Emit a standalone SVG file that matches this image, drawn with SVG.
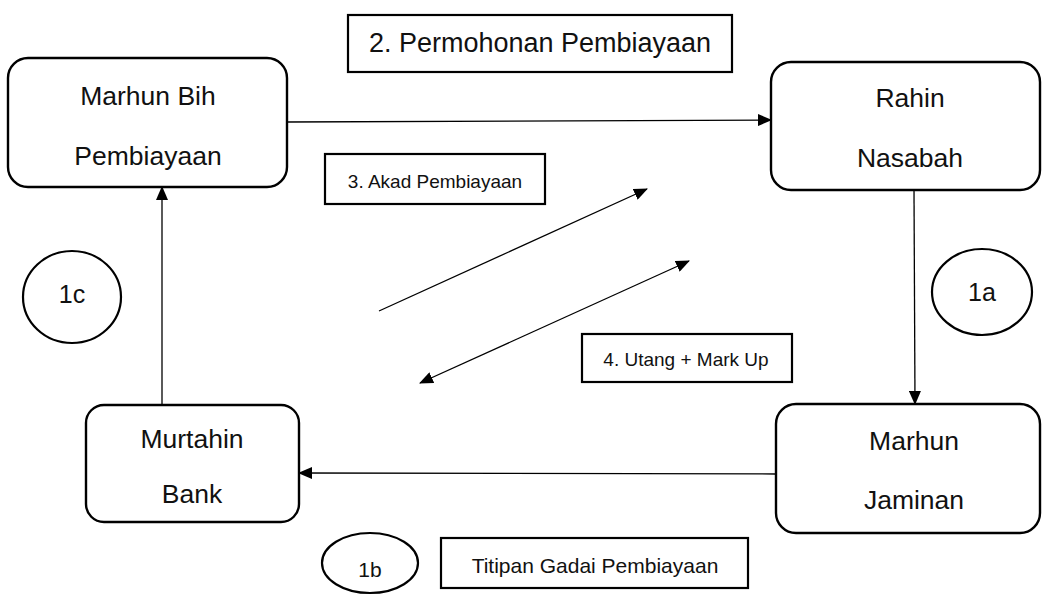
<svg xmlns="http://www.w3.org/2000/svg" width="1046" height="595" viewBox="0 0 1046 595">
<style>
.node{fill:#fff;stroke:#000;stroke-width:2.4}
.lbl{fill:#fff;stroke:#000;stroke-width:2.2}
.conn{stroke:#000;stroke-width:1.3;fill:none}
text{font-family:"Liberation Sans",Arial,sans-serif;fill:#111;text-anchor:middle}
.big{font-size:26.5px}
.title{font-size:27px}
.small{font-size:19px}
.mid{font-size:21px}
.num{font-size:25px}
</style>
<defs>
<marker id="arr" markerUnits="userSpaceOnUse" markerWidth="14" markerHeight="12" refX="13" refY="6" orient="auto-start-reverse" viewBox="0 0 14 12">
<path d="M0,0 L14,6 L0,12 z" fill="#000"/>
</marker>
</defs>
<rect width="1046" height="595" fill="#fff"/>
<g id="connectors">
<line class="conn" x1="287" y1="122" x2="771" y2="120" marker-end="url(#arr)"/>
<line class="conn" x1="914" y1="190" x2="915" y2="404" marker-end="url(#arr)"/>
<line class="conn" x1="776" y1="474" x2="299" y2="473" marker-end="url(#arr)"/>
<line class="conn" x1="162" y1="405" x2="162" y2="187" marker-end="url(#arr)"/>
<line class="conn" x1="379" y1="311" x2="647" y2="189" marker-end="url(#arr)"/>
<line class="conn" x1="420" y1="383" x2="689" y2="261" marker-start="url(#arr)" marker-end="url(#arr)"/>
</g>
<g id="marhun-bih">
<rect class="node" x="8" y="58" width="279" height="129" rx="20"/>
<text class="big" x="148" y="105">Marhun Bih</text>
<text class="big" x="148" y="165">Pembiayaan</text>
</g>
<g id="rahin">
<rect class="node" x="771" y="62" width="269" height="128" rx="20"/>
<text class="big" x="910" y="107">Rahin</text>
<text class="big" x="910" y="167">Nasabah</text>
</g>
<g id="murtahin">
<rect class="node" x="86" y="405" width="213" height="117" rx="18"/>
<text class="big" x="192" y="448">Murtahin</text>
<text class="big" x="192" y="503">Bank</text>
</g>
<g id="marhun-jaminan">
<rect class="node" x="776" y="404" width="264" height="129" rx="20"/>
<text class="big" x="914" y="450">Marhun</text>
<text class="big" x="914" y="509">Jaminan</text>
</g>
<g id="label-permohonan">
<rect class="lbl" x="348" y="15" width="384" height="57"/>
<text class="title" x="540" y="52">2. Permohonan Pembiayaan</text>
</g>
<g id="label-akad">
<rect class="lbl" x="325" y="154" width="220" height="50"/>
<text class="small" x="435" y="188">3. Akad Pembiayaan</text>
</g>
<g id="label-utang">
<rect class="lbl" x="582" y="334" width="210" height="48"/>
<text class="small" x="686" y="366">4. Utang + Mark Up</text>
</g>
<g id="label-titipan">
<rect class="lbl" x="441" y="538" width="307" height="50"/>
<text class="mid" x="595" y="573">Titipan Gadai Pembiayaan</text>
</g>
<g id="step-1c">
<ellipse class="lbl" cx="72" cy="297" rx="49" ry="46"/>
<text class="num" x="72" y="303">1c</text>
</g>
<g id="step-1a">
<ellipse class="lbl" cx="982" cy="292" rx="50" ry="43"/>
<text class="num" x="982" y="301">1a</text>
</g>
<g id="step-1b">
<ellipse class="lbl" cx="370" cy="563" rx="48" ry="30"/>
<text class="mid" x="370" y="577">1b</text>
</g>
</svg>
